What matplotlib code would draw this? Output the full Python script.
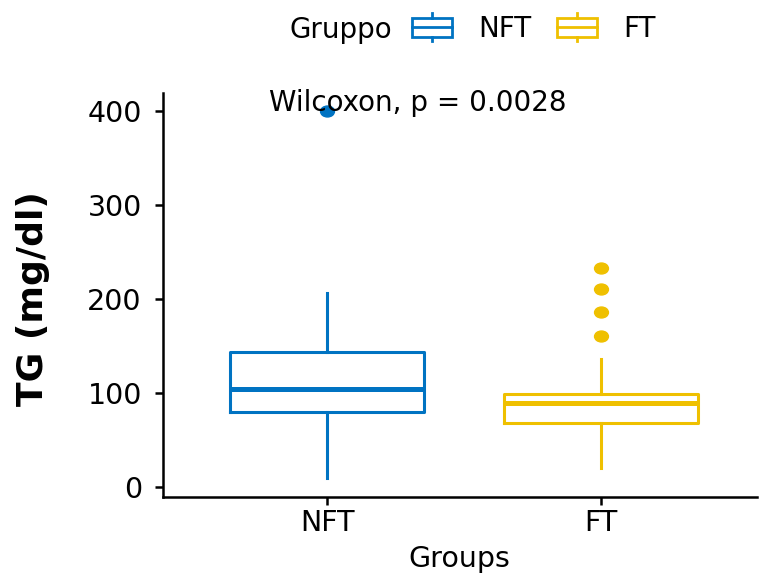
import matplotlib
matplotlib.use("Agg")
import matplotlib.pyplot as plt
from matplotlib.path import Path
from matplotlib.transforms import Affine2D
from matplotlib.patches import Rectangle, Patch
from matplotlib.lines import Line2D
from matplotlib.legend_handler import HandlerBase

# data
groups = ["NFT", "FT"]
q1 = [80, 68]
median = [104, 89]
q3 = [143, 99]
whisker_lo = [9, 20]
whisker_hi = [206, 136]
outliers = [[400], [233, 210, 186, 160]]
colors = ["#0073C2", "#EFC000"]
p_label = "Wilcoxon, p = 0.0028"

plt.rcParams["font.family"] = "DejaVu Sans"


class BoxKey(HandlerBase):
    # legend key drawn like a small boxplot
    def create_artists(self, legend, orig_handle, xdescent, ydescent,
                       width, height, fontsize, trans):
        c = orig_handle.get_edgecolor()
        x0, y0 = -xdescent, -ydescent
        bh = height * 0.68
        by = y0 + (height - bh) / 2
        xm = x0 + width / 2
        box = Rectangle((x0, by), width, bh, fill=False, edgecolor=c, lw=2, transform=trans)
        mid = Line2D([x0, x0 + width], [by + bh / 2] * 2, color=c, lw=2, transform=trans)
        lo = Line2D([xm, xm], [y0, by], color=c, lw=2, transform=trans)
        hi = Line2D([xm, xm], [by + bh, y0 + height], color=c, lw=2, transform=trans)
        return [box, mid, lo, hi]


fig = plt.figure(figsize=(7.6, 5.76), dpi=100)
ax = fig.add_axes([162.6 / 760, 1 - 496.6 / 576, 594.4 / 760, 404 / 576])

stats = []
for i, g in enumerate(groups):
    stats.append(dict(label=g, q1=q1[i], med=median[i], q3=q3[i],
                      whislo=whisker_lo[i], whishi=whisker_hi[i], fliers=outliers[i]))

# slightly wide dots, like the reference
ellipse = Path.unit_circle().transformed(Affine2D().scale(1.27, 1.0))
art = ax.bxp(stats, positions=[1, 2], widths=0.708, showcaps=False,
             flierprops=dict(marker=ellipse, markersize=10, linestyle="none"))

for i, c in enumerate(colors):
    art["boxes"][i].set(color=c, lw=2.2)
    art["medians"][i].set(color=c, lw=3.6)
    for w in art["whiskers"][2 * i:2 * i + 2]:
        w.set(color=c, lw=2.2)
    art["fliers"][i].set(markerfacecolor=c, markeredgecolor=c)

ax.set_xlim(0.4, 2.569)
ax.set_ylim(-10.5, 419.5)
ax.set_yticks([0, 100, 200, 300, 400])
ax.set_xticks([1, 2])
ax.set_xticklabels(groups)

for s in ["top", "right"]:
    ax.spines[s].set_visible(False)
for s in ["left", "bottom"]:
    ax.spines[s].set_linewidth(1.8)

ax.tick_params(axis="both", length=6, width=1.8, labelsize=20.5, colors="black")
ax.tick_params(axis="y", pad=9)
ax.tick_params(axis="x", pad=3)

ax.text(1.332, 400, p_label, ha="center", va="baseline", fontsize=20)

ax.set_xlabel("Groups", fontsize=20.5, labelpad=6)
ax.set_ylabel("TG (mg/dl)", fontsize=26, fontweight="bold")
ax.yaxis.set_label_coords(-0.19, 0.49)

handles = [Patch(edgecolor=c, facecolor="none") for c in colors]
fig.legend(handles, groups, handler_map={Patch: BoxKey()},
           loc="center left", bbox_to_anchor=(412 / 760, 1 - 28 / 576),
           ncol=2, frameon=False, fontsize=20, handlelength=1.45, handleheight=1.15,
           handletextpad=0.95, columnspacing=0.9, borderpad=0, borderaxespad=0)
fig.text(392 / 760, 1 - 38 / 576, "Gruppo", ha="right", va="baseline", fontsize=20)

fig.savefig("out.png", dpi=100)
